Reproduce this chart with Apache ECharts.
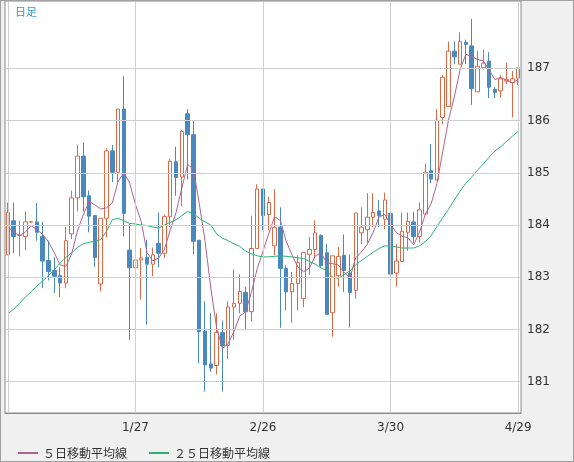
<!DOCTYPE html>
<html><head><meta charset="utf-8">
<script src="https://cdn.jsdelivr.net/npm/echarts@6/dist/echarts.min.js"></script>
<style>html,body{margin:0;padding:0;background:#f0f0f0;}#c{width:574px;height:462px;box-sizing:border-box;border:1px solid #a0a0a0;}</style>
</head><body><div id="c"></div>
<script>
const openV=[183.43,184.08,183.80,183.78,184.06,184.06,183.78,183.32,183.13,183.03,182.89,183.83,184.52,185.32,184.56,184.18,182.87,184.13,185.42,185.01,186.22,183.52,183.18,183.33,183.38,183.25,183.65,183.46,184.16,185.21,184.92,186.13,185.73,183.71,181.97,181.34,181.31,181.94,181.69,182.43,182.50,182.71,182.34,183.55,184.69,184.20,183.60,183.96,183.17,182.72,182.88,182.59,183.44,183.53,183.80,183.47,182.32,183.03,183.42,183.08,182.75,183.85,183.91,184.15,184.27,184.11,184.22,183.08,183.30,183.86,184.06,183.78,184.21,185.04,184.86,186.06,186.27,187.33,187.08,187.50,187.43,186.55,187.01,187.14,186.60,186.57,186.76,186.73,186.81];
const closeV=[184.24,183.78,183.80,184.06,184.06,183.86,183.31,183.11,183.02,182.89,183.70,184.52,185.32,184.54,184.17,183.38,184.13,185.42,185.01,186.22,184.22,183.18,183.33,183.37,183.25,183.43,183.46,184.16,185.22,184.91,185.79,185.73,183.69,181.96,181.32,181.26,181.94,181.69,182.43,182.50,182.73,182.34,183.55,184.69,184.18,184.43,183.95,183.17,182.72,182.88,183.28,183.47,183.53,183.85,183.22,182.29,183.41,183.40,183.13,182.71,184.23,183.96,184.15,184.24,184.18,184.48,183.06,183.31,183.88,184.07,183.78,184.29,185.01,184.88,186.01,186.83,187.33,187.22,187.51,187.46,186.61,187.04,187.10,186.64,186.54,186.80,186.79,186.80,187.01];
const lowV=[183.43,183.46,183.40,183.52,184.04,183.70,182.79,182.94,182.70,182.62,182.79,183.73,184.26,184.26,183.86,183.20,182.73,183.76,184.82,184.82,183.78,181.80,182.14,182.57,182.09,183.02,183.19,183.37,183.96,184.56,184.36,184.87,183.44,181.35,180.81,181.19,181.14,180.81,181.43,181.80,182.31,182.00,182.15,183.55,183.90,183.90,183.42,182.03,182.37,182.13,182.37,182.43,183.05,183.36,183.20,182.29,181.86,182.82,182.72,182.04,182.59,183.64,183.66,183.96,183.96,183.92,182.59,182.82,183.30,183.51,183.66,183.66,184.21,184.80,184.86,185.93,186.27,187.08,187.08,187.08,186.30,186.55,186.98,186.43,186.43,186.44,186.70,186.06,186.68];
const highV=[184.43,184.43,184.08,184.26,184.08,184.42,184.06,183.70,183.38,183.19,183.96,184.66,185.54,185.58,184.66,184.18,184.13,185.47,185.53,186.22,186.85,184.02,183.72,183.56,183.72,183.57,184.24,184.20,185.26,185.50,185.82,186.22,186.00,183.71,182.54,182.31,182.31,182.17,182.54,183.15,183.06,182.82,184.18,184.78,184.69,184.54,184.69,184.34,183.23,183.10,183.42,183.48,183.77,184.09,183.82,183.64,183.41,183.58,183.82,183.43,184.23,184.34,184.61,184.61,184.48,184.62,184.22,183.64,184.24,184.24,184.25,184.43,185.17,185.55,186.22,186.87,187.51,187.52,187.69,187.55,187.95,187.33,187.36,187.31,186.64,186.87,187.11,186.95,187.01];
const ma5Start=[183.97,183.86,183.80,183.86];
const ma25V=[182.30,182.39,182.50,182.62,182.72,182.83,182.93,183.03,183.14,183.27,183.38,183.47,183.57,183.64,183.67,183.69,183.72,183.88,184.10,184.13,184.08,184.03,184.02,184.00,183.99,183.96,183.94,184.00,184.05,184.10,184.18,184.26,184.22,184.13,184.06,184.00,183.83,183.75,183.70,183.64,183.59,183.50,183.45,183.41,183.39,183.39,183.40,183.41,183.40,183.39,183.37,183.36,183.30,183.25,183.18,183.12,183.00,182.98,183.05,183.12,183.24,183.32,183.40,183.48,183.55,183.60,183.60,183.58,183.56,183.56,183.56,183.60,183.68,183.80,183.97,184.14,184.30,184.48,184.65,184.80,184.92,185.05,185.17,185.30,185.42,185.50,185.60,185.70,185.79];
const tickLabels={22:'1/27',44:'2/26',66:'3/30',88:'4/29'};
const yTicks=[181,182,183,184,185,186,187];
const categories=openV.map((_,i)=>String(i));

const ma5=closeV.map((c,i)=>i<4?ma5Start[i]:+(closeV.slice(i-4,i+1).reduce((a,b)=>a+b,0)/5).toFixed(3));
const candles=openV.map((o,i)=>[o,closeV[i],lowV[i],highV[i]]);
const UP='#dc6a45',DOWN='#4a89be',GRID='#cfcfcf';

const chart=echarts.init(document.getElementById('c'));
chart.setOption({
  animation:false,
  backgroundColor:'#f0f0f0',
  textStyle:{fontFamily:'"Noto Sans CJK JP", "DejaVu Sans", sans-serif'},
  graphic:[{type:'text',left:14,top:5,z:10,style:{text:'日足',fill:'#2f9fd8',fontSize:11,fontFamily:'"Noto Sans CJK JP"'}}],
  grid:{left:4,right:52,top:-1,bottom:48,show:true,backgroundColor:'#fff',borderColor:'#8a8a8a',borderWidth:1},
  legend:{left:12,top:441,itemWidth:20,itemHeight:2,itemGap:22,icon:'rect',
    textStyle:{fontSize:12,color:'#333'},data:['５日移動平均線','２５日移動平均線']},
  xAxis:{type:'category',data:categories,boundaryGap:true,
    axisLine:{show:true,lineStyle:{color:'#8a8a8a'}},axisTick:{show:false},splitLine:{show:false},
    axisLabel:{interval:i=>tickLabels[i]!==undefined,formatter:(v,i)=>tickLabels[i]||'',color:'#333',fontSize:12,margin:9,fontFamily:'"DejaVu Sans"'}},
  yAxis:{type:'value',min:180.40,max:188.29,position:'right',splitLine:{show:false},axisLabel:{show:false},axisLine:{show:false},axisTick:{show:false}},
  series:[
    {type:'line',data:[],silent:true,
      markLine:{silent:true,symbol:'none',animation:false,lineStyle:{color:GRID,width:1,type:'solid'},
        label:{position:'end',distance:6,color:'#333',fontSize:12,fontFamily:'"DejaVu Sans"',formatter:p=>p.value},
        data:yTicks.map(v=>({yAxis:v}))}},
    {type:'line',data:[],silent:true,
      markLine:{silent:true,symbol:'none',animation:false,lineStyle:{color:GRID,width:1,type:'solid'},label:{show:false},
        data:[0,22,44,66,88].map(i=>({xAxis:String(i)}))}},
    {type:'candlestick',data:candles,barWidth:4,
      itemStyle:{color:'#ffffff',color0:DOWN,borderColor:UP,borderColor0:DOWN,borderWidth:1}},
    {name:'５日移動平均線',type:'line',data:ma5,symbol:'none',lineStyle:{color:'#b0628e',width:1},itemStyle:{color:'#b0628e'}},
    {name:'２５日移動平均線',type:'line',data:ma25V,symbol:'none',lineStyle:{color:'#2cb276',width:1},itemStyle:{color:'#2cb276'}}
  ]
});
</script></body></html>
